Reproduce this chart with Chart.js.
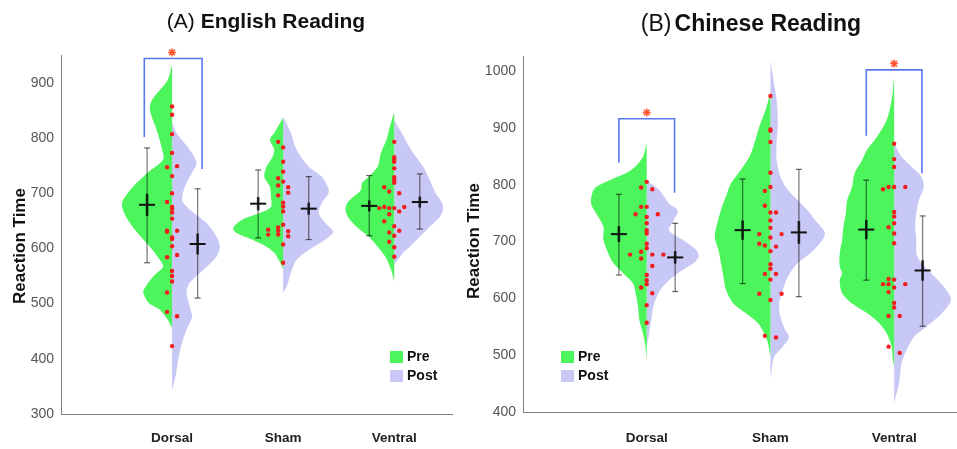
<!DOCTYPE html>
<html>
<head>
<meta charset="utf-8">
<script src="https://cdn.jsdelivr.net/npm/chart.js@4.4.1/dist/chart.umd.min.js"></script>
<style>
html, body { margin: 0; padding: 0; background: #fff; overflow: hidden; }
#chartA { position: absolute; left: 0; top: 0; }
#chartB { position: absolute; left: 462px; top: 0; }
</style>
</head>
<body>
<canvas id="chartA" width="462" height="449"></canvas>
<canvas id="chartB" width="504" height="449"></canvas>
<script>
var categories = ["Dorsal", "Sham", "Ventral"];
var catX = [1, 2, 3];
var yTicksA = [300, 400, 500, 600, 700, 800, 900];
var yTicksB = [400, 500, 600, 700, 800, 900, 1000];

// error bars, order Dorsal, Sham, Ventral
var preMeanA = [679, 681, 677];
var preLowA = [574, 619, 623];
var preHighA = [782, 742, 732];
var preSemA = [20, 12, 10];
var postMeanA = [608, 672, 684];
var postLowA = [510, 616, 635];
var postHighA = [708, 730, 735];
var postSemA = [19, 11, 10];

var preMeanB = [713, 720, 721];
var preLowB = [641, 626, 632];
var preHighB = [783, 810, 808];
var preSemB = [14, 17, 17];
var postMeanB = [672, 716, 649];
var postLowB = [612, 603, 551];
var postHighB = [732, 827, 745];
var postSemB = [11, 20, 18];

// significance brackets: left leg start, top, right leg end (null = none)
var bracketLeftA = [802, null, null];
var bracketTopA = [944, null, null];
var bracketRightA = [744, null, null];
var bracketLeftB = [839, null, 886];
var bracketTopB = [916, null, 1002];
var bracketRightB = [786, null, 820];

// violin halves: [reaction time, density (% of category spacing)]
var violinPreDorsalA = [[933,0],[905,4],[869,18],[851,20],[809,13],[779,9],[761,8],[737,22],[712,35],[688,44],[675,45],[652,40],[628,31],[603,20],[579,11],[567,8],[549,17],[530,24],[520,26],[501,21],[489,11],[471,4],[456,0]];
var violinPostDorsalA = [[828,0],[809,4],[791,11],[773,18],[755,22],[737,18],[719,13],[688,9],[670,16],[646,31],[621,40],[603,43],[585,40],[561,28],[538,16],[520,13],[494,16],[476,18],[453,13],[429,9],[404,6],[367,3],[344,0]];
var violinPreShamA = [[837,0],[809,8],[797,12],[779,8],[764,10],[748,15],[730,17],[712,12],[693,11],[675,11],[664,21],[652,37],[637,45],[628,42],[616,28],[603,15],[592,8],[579,4],[567,1],[561,0]];
var violinPostShamA = [[838,0],[809,7],[779,12],[748,23],[730,35],[712,40],[701,41],[683,35],[664,32],[646,38],[630,45],[616,38],[597,23],[579,12],[556,7],[530,3],[520,0]];
var violinPreVentralA = [[846,0],[820,4],[797,7],[773,12],[748,15],[730,23],[719,29],[706,30],[693,37],[683,42],[670,44],[655,41],[639,34],[621,23],[603,15],[585,8],[567,4],[549,1],[539,0]];
var violinPostVentralA = [[833,0],[797,10],[773,17],[748,26],[724,32],[701,37],[683,43],[670,44],[657,41],[639,32],[621,23],[603,14],[592,8],[579,3],[570,0]];

var violinPreDorsalB = [[873,0],[849,3],[832,9],[820,17],[808,30],[796,41],[785,44],[767,45],[750,41],[726,35],[703,35],[679,31],[662,27],[644,19],[626,11],[609,9],[585,7],[562,6],[538,3],[515,1],[491,0]];
var violinPostDorsalB = [[808,0],[791,10],[767,18],[755,25],[738,22],[720,18],[703,29],[685,40],[673,42],[662,38],[650,29],[632,18],[615,11],[591,6],[568,4],[538,2],[515,0]];
var violinPreShamB = [[961,0],[931,4],[902,9],[873,13],[849,17],[826,24],[802,32],[779,36],[755,40],[732,43],[708,45],[685,42],[662,40],[638,38],[615,36],[591,30],[574,20],[556,10],[538,5],[521,2],[497,0]];
var violinPostShamB = [[1019,0],[990,2],[949,5],[908,6],[873,5],[843,5],[814,8],[791,14],[773,22],[755,30],[738,36],[720,43],[711,44],[697,40],[679,32],[662,22],[638,14],[615,10],[591,7],[568,8],[544,12],[532,15],[515,10],[497,3],[474,1],[456,0]];
var violinPreVentralB = [[990,0],[949,2],[914,6],[884,14],[861,22],[843,26],[820,32],[796,34],[773,38],[750,39],[726,41],[703,42],[679,44],[656,44],[644,42],[632,44],[609,42],[591,34],[574,22],[556,12],[538,6],[515,2],[491,1],[480,0]];
var violinPostVentralB = [[873,0],[849,6],[832,14],[814,22],[796,24],[773,20],[750,18],[726,17],[703,18],[679,18],[662,22],[644,30],[626,38],[609,44],[597,46],[585,43],[568,36],[550,26],[532,16],[509,10],[486,6],[451,4],[416,0]];

// individual subjects and their jitter step
var dotsDorsalA = [857,842,807,773,747,749,731,700,684,675,672,665,654,632,630,632,620,617,604,584,588,559,550,540,520,485,477,423];
var jitterDorsalA = [0,0,0,0,-1,1,0,0,-1,0,0,0,0,-1,-1,1,0,0,0,-1,1,0,0,0,-1,-1,1,0];
var dotsShamA = [793,783,757,739,727,721,714,711,701,696,683,676,667,643,638,632,634,625,625,631,622,607,574];
var jitterShamA = [-1,0,0,0,-1,0,-1,1,1,-1,0,0,0,0,-1,-1,-3,-3,-1,1,1,0,0];
var dotsVentralA = [793,765,761,757,745,729,724,719,711,703,700,673,675,673,673,675,667,662,649,640,629,632,623,612,602,585];
var jitterVentralA = [0,0,0,0,0,0,0,0,-2,-1,1,-3,-2,-1,0,2,1,-1,-2,0,-1,1,0,-1,0,0];

var dotsDorsalB = [805,795,792,761,761,748,748,743,732,720,714,696,688,682,677,677,677,670,657,641,632,625,619,609,588,557];
var jitterDorsalB = [0,-1,1,-1,0,-2,2,0,0,0,0,0,0,-1,-3,1,3,-1,1,0,0,0,-1,1,0,0];
var dotsShamB = [956,897,895,875,821,796,789,763,751,751,737,724,713,713,707,696,693,691,683,660,652,643,643,633,608,608,597,534,531];
var jitterShamB = [0,0,0,0,0,0,-1,-1,0,1,0,0,-2,2,0,-2,-1,1,0,0,0,-1,1,0,-2,2,0,-1,1];
var dotsVentralB = [872,845,831,792,796,796,796,752,744,732,725,714,697,634,633,625,625,625,619,611,592,584,569,569,515,504];
var jitterVentralB = [0,0,0,-2,-1,0,2,0,0,0,-1,0,0,-1,0,-2,-1,2,0,-1,0,0,-1,1,-1,1];

var green = "#4cf55c";
var lilac = "#c8c8f6";
var fontFamily = '"Liberation Sans", Arial, Helvetica, sans-serif';

function halfViolin(profile, center, side, color) {
    return {
        data: profile.map(function (p) { return { x: center + side * p[1] / 100, y: p[0] }; }),
        borderWidth: 0,
        borderColor: color,
        backgroundColor: color,
        fill: 'shape',
        pointRadius: 0,
        tension: 0.3,
        order: 5
    };
}

function lineSet(pts, color, width, order) {
    return { data: pts, borderColor: color, borderWidth: width, pointRadius: 0, fill: false, tension: 0, order: order, clip: false };
}

function pointSet(pts, style, radius, color, width, order) {
    return {
        data: pts, showLine: false, pointStyle: style, pointRadius: radius,
        borderColor: color, backgroundColor: color, borderWidth: width, pointBorderWidth: width,
        order: order, clip: false
    };
}

function errorBar(ds, x, mean, low, high, sem) {
    ds.push(lineSet([{ x: x, y: low }, { x: x, y: high }], 'rgba(0,0,0,0.5)', 1.3, 3));
    ds.push(lineSet([{ x: x, y: mean - sem }, { x: x, y: mean + sem }], 'rgba(0,0,0,0.8)', 2.6, 2));
    ds.push(pointSet([{ x: x, y: low }, { x: x, y: high }], 'line', 3, 'rgba(0,0,0,0.6)', 1.2, 2));
    ds.push(pointSet([{ x: x, y: mean }], 'line', 8, '#111', 2, 1));
}

function buildDatasets(p) {
    var ds = [];
    for (var i = 0; i < 3; i++) {
        var c = catX[i];
        ds.push(halfViolin(p.pre[i], c, -1, green));
        ds.push(halfViolin(p.post[i], c, 1, lilac));
        var pts = p.dots[i].map(function (v, k) { return { x: c + p.jitter[i][k] * 0.045, y: v }; });
        ds.push(pointSet(pts, 'circle', 2.2, '#f01e1e', 0, 2));
        errorBar(ds, c - 0.225, p.preMean[i], p.preLow[i], p.preHigh[i], p.preSem[i]);
        errorBar(ds, c + 0.23, p.postMean[i], p.postLow[i], p.postHigh[i], p.postSem[i]);
        if (p.bTop[i] !== null) {
            var xl = c + p.bracketL, xr = c + p.bracketR;
            ds.push(lineSet([{ x: xl, y: p.bLeft[i] }, { x: xl, y: p.bTop[i] }, { x: xr, y: p.bTop[i] }, { x: xr, y: p.bRight[i] }], '#5a78f0', 1.6, 1));
            ds.push(pointSet([{ x: c, y: p.bTop[i] + 11 }], 'star', 4, '#ff5533', 1.5, 0));
        }
    }
    return ds;
}

function panelText(p) {
    return {
        id: 'panelText',
        afterDraw: function (chart) {
            var ctx = chart.ctx;
            ctx.save();
            ctx.fillStyle = '#111';
            ctx.textBaseline = 'middle';
            ctx.textAlign = 'left';
            ctx.font = p.titleSize + 'px ' + fontFamily;
            var w1 = ctx.measureText(p.titleLead).width;
            ctx.font = 'bold ' + p.titleSize + 'px ' + fontFamily;
            var w2 = ctx.measureText(p.titleMain).width;
            var x0 = p.titleX - (w1 + w2 + p.titleGap) / 2;
            ctx.font = p.titleSize + 'px ' + fontFamily;
            ctx.fillText(p.titleLead, x0, p.titleY);
            ctx.font = 'bold ' + p.titleSize + 'px ' + fontFamily;
            ctx.fillText(p.titleMain, x0 + w1 + p.titleGap, p.titleY);

            ctx.save();
            ctx.translate(p.yTitleX, p.yTitleY);
            ctx.rotate(-Math.PI / 2);
            ctx.textAlign = 'center';
            ctx.font = 'bold 17px ' + fontFamily;
            ctx.fillText('Reaction Time', 0, 0);
            ctx.restore();

            ctx.font = 'bold 14px ' + fontFamily;
            ctx.fillStyle = green;
            ctx.fillRect(p.legX, p.legY, 13, 12);
            ctx.fillStyle = lilac;
            ctx.fillRect(p.legX, p.legY + 19, 13, 12);
            ctx.fillStyle = '#111';
            ctx.fillText('Pre', p.legX + 17, p.legY + 6.5);
            ctx.fillText('Post', p.legX + 17, p.legY + 25.5);
            ctx.restore();
        }
    };
}

function makeChart(id, p) {
    new Chart(id, {
        type: 'line',
        data: { datasets: buildDatasets(p) },
        options: {
            responsive: false,
            animation: false,
            events: [],
            layout: { padding: { top: p.padTop, right: p.padRight, left: 0, bottom: 0 } },
            plugins: { legend: { display: false }, tooltip: { enabled: false } },
            scales: {
                x: {
                    type: 'linear', min: 0, max: p.xMax,
                    grid: { display: false, drawTicks: false },
                    border: { display: true, color: '#808080', width: 1 },
                    afterBuildTicks: function (s) { s.ticks = catX.map(function (v) { return { value: v }; }); },
                    afterFit: function (s) { s.height = p.xAxisH; },
                    ticks: {
                        padding: p.xPad, maxRotation: 0, autoSkip: false, color: '#222',
                        font: { family: fontFamily, size: 13.5, weight: 'bold' },
                        callback: function (v) { return categories[v - 1]; }
                    }
                },
                y: {
                    type: 'linear', min: p.yMin, max: p.yMax,
                    grid: { display: false, drawTicks: false },
                    border: { display: true, color: '#808080', width: 1 },
                    afterBuildTicks: function (s) { s.ticks = p.yTicks.map(function (v) { return { value: v }; }); },
                    afterFit: function (s) { s.width = 61; },
                    ticks: {
                        padding: 7, color: '#555', font: { family: fontFamily, size: 14 },
                        callback: function (v) { return String(v); }
                    }
                }
            }
        },
        plugins: [panelText(p)]
    });
}

makeChart('chartA', {
    pre: [violinPreDorsalA, violinPreShamA, violinPreVentralA],
    post: [violinPostDorsalA, violinPostShamA, violinPostVentralA],
    dots: [dotsDorsalA, dotsShamA, dotsVentralA],
    jitter: [jitterDorsalA, jitterShamA, jitterVentralA],
    preMean: preMeanA, preLow: preLowA, preHigh: preHighA, preSem: preSemA,
    postMean: postMeanA, postLow: postLowA, postHigh: postHighA, postSem: postSemA,
    bLeft: bracketLeftA, bTop: bracketTopA, bRight: bracketRightA,
    bracketL: -0.25, bracketR: 0.27,
    yTicks: yTicksA, yMin: 300, yMax: 950, xMax: 3.52,
    padTop: 55.2, padRight: 7, xAxisH: 35, xPad: 16,
    titleLead: '(A) ', titleMain: 'English Reading', titleSize: 21, titleGap: 0, titleX: 266, titleY: 22,
    yTitleX: 20, yTitleY: 246, legX: 390, legY: 351
});

makeChart('chartB', {
    pre: [violinPreDorsalB, violinPreShamB, violinPreVentralB],
    post: [violinPostDorsalB, violinPostShamB, violinPostVentralB],
    dots: [dotsDorsalB, dotsShamB, dotsVentralB],
    jitter: [jitterDorsalB, jitterShamB, jitterVentralB],
    preMean: preMeanB, preLow: preLowB, preHigh: preHighB, preSem: preSemB,
    postMean: postMeanB, postLow: postLowB, postHigh: postHighB, postSem: postSemB,
    bLeft: bracketLeftB, bTop: bracketTopB, bRight: bracketRightB,
    bracketL: -0.225, bracketR: 0.225,
    yTicks: yTicksB, yMin: 400, yMax: 1025, xMax: 3.5,
    padTop: 56.8, padRight: 5.5, xAxisH: 37, xPad: 18,
    titleLead: '(B)', titleMain: 'Chinese Reading', titleSize: 23, titleGap: 3, titleX: 289, titleY: 25,
    yTitleX: 12, yTitleY: 241, legX: 99, legY: 351
});
</script>
</body>
</html>
